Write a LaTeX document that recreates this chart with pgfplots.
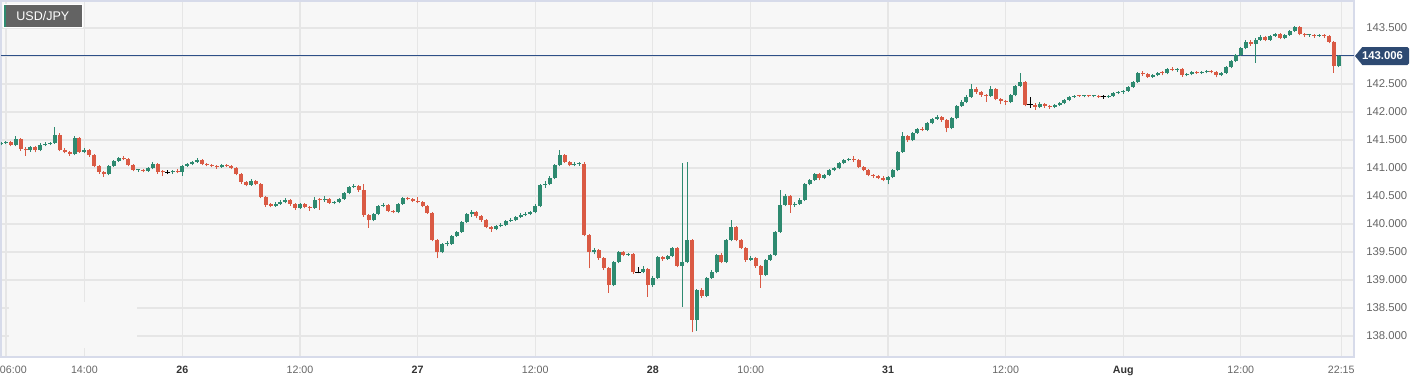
\documentclass[border=0pt]{standalone}
\usepackage{pgfplots}
\pgfplotsset{compat=1.18}
\usepackage{pgfplotstable}
\usepackage{fontspec}
\setmainfont{Liberation Sans}
\definecolor{upc}{HTML}{2E8A70}
\definecolor{dnc}{HTML}{DA5A44}
\definecolor{bgc}{HTML}{F7F7F7}
\definecolor{gridc}{HTML}{E6E6E6}
\definecolor{framec}{HTML}{D7DBEA}
\definecolor{navy}{HTML}{2E5088}
\definecolor{boxc}{HTML}{2E4A72}
\definecolor{lblc}{HTML}{666666}
\definecolor{dayc}{HTML}{333333}
\definecolor{titlec}{HTML}{636363}
\pgfplotstableread{
x o h l c
5.5 141.43 141.47 141.41 141.45
6 141.45 141.49 141.43 141.46
6.5 141.46 141.48 141.39 141.41
7 141.41 141.57 141.39 141.52
7.5 141.52 141.54 141.31 141.34
8 141.34 141.37 141.22 141.32
8.5 141.32 141.40 141.29 141.38
9 141.38 141.40 141.28 141.32
9.5 141.32 141.44 141.30 141.41
10 141.41 141.46 141.39 141.43
10.5 141.43 141.47 141.41 141.45
11 141.45 141.73 141.43 141.59
11.5 141.59 141.62 141.30 141.32
12 141.32 141.35 141.26 141.29
12.5 141.29 141.31 141.22 141.25
13 141.25 141.58 141.23 141.54
13.5 141.54 141.56 141.27 141.29
14 141.29 141.36 141.26 141.32
14.5 141.32 141.34 141.20 141.23
15 141.23 141.25 141.01 141.04
15.5 141.04 141.06 140.90 140.93
16 140.93 140.95 140.84 140.89
16.5 140.89 141.06 140.87 141.04
17 141.04 141.15 141.02 141.13
17.5 141.13 141.20 141.11 141.18
18 141.18 141.21 141.14 141.16
18.5 141.16 141.18 141.03 141.05
19 141.05 141.07 140.94 140.96
19.5 140.96 140.99 140.93 140.97
20 140.97 140.99 140.92 140.95
20.5 140.95 141.02 140.93 141.00
21 141.00 141.11 140.98 141.07
21.5 141.07 141.09 140.90 140.93
22 140.93 140.96 140.86 140.92
22.5 140.92 140.97 140.89 140.92
23 140.92 140.97 140.90 140.95
23.5 140.95 140.98 140.91 140.93
24 140.93 141.05 140.86 141.04
24.5 141.04 141.09 141.02 141.07
25 141.07 141.13 141.05 141.11
25.5 141.11 141.18 141.09 141.14
26 141.14 141.16 141.05 141.07
26.5 141.07 141.09 141.03 141.05
27 141.05 141.07 141.01 141.04
27.5 141.04 141.06 140.99 141.02
28 141.02 141.07 141.00 141.05
28.5 141.05 141.07 141.02 141.04
29 141.04 141.06 140.98 141.00
29.5 141.00 141.02 140.87 140.89
30 140.89 140.91 140.72 140.75
30.5 140.75 140.77 140.67 140.70
31 140.70 140.80 140.68 140.77
31.5 140.77 140.79 140.69 140.71
32 140.71 140.73 140.46 140.48
32.5 140.48 140.50 140.31 140.34
33 140.34 140.37 140.30 140.33
33.5 140.33 140.39 140.31 140.36
34 140.36 140.42 140.34 140.39
34.5 140.39 140.46 140.37 140.43
35 140.43 140.45 140.33 140.36
35.5 140.36 140.38 140.25 140.29
36 140.29 140.38 140.27 140.36
36.5 140.36 140.38 140.28 140.30
37 140.30 140.33 140.24 140.29
37.5 140.29 140.48 140.27 140.43
38 140.43 140.46 140.25 140.42
38.5 140.42 140.50 140.40 140.45
39 140.45 140.47 140.36 140.38
39.5 140.38 140.41 140.35 140.39
40 140.39 140.47 140.37 140.45
40.5 140.45 140.57 140.43 140.55
41 140.55 140.68 140.53 140.66
41.5 140.66 140.71 140.64 140.68
42 140.68 140.70 140.58 140.61
42.5 140.61 140.72 140.13 140.16
43 140.16 140.18 139.93 140.07
43.5 140.07 140.20 140.05 140.18
44 140.18 140.34 140.16 140.32
44.5 140.32 140.37 140.30 140.34
45 140.34 140.36 140.21 140.23
45.5 140.23 140.25 140.19 140.21
46 140.21 140.38 140.19 140.36
46.5 140.36 140.48 140.34 140.46
47 140.46 140.49 140.42 140.45
47.5 140.45 140.47 140.39 140.41
48 140.41 140.48 140.37 140.39
48.5 140.39 140.41 140.30 140.32
49 140.32 140.34 140.18 140.20
49.5 140.20 140.22 139.69 139.71
50 139.71 139.73 139.39 139.50
50.5 139.50 139.66 139.48 139.64
51 139.64 139.70 139.60 139.65
51.5 139.65 139.81 139.63 139.79
52 139.79 139.88 139.77 139.86
52.5 139.86 140.06 139.84 140.04
53 140.04 140.20 140.02 140.18
53.5 140.18 140.25 140.13 140.21
54 140.21 140.23 140.10 140.14
54.5 140.14 140.16 140.04 140.07
55 140.07 140.09 139.92 139.95
55.5 139.95 139.97 139.86 139.91
56 139.91 139.99 139.89 139.96
56.5 139.96 140.01 139.94 139.98
57 139.98 140.07 139.96 140.05
57.5 140.05 140.10 140.04 140.07
58 140.07 140.15 140.05 140.13
58.5 140.13 140.19 140.11 140.16
59 140.16 140.21 140.14 140.18
59.5 140.18 140.24 140.16 140.21
60 140.21 140.35 140.19 140.32
60.5 140.32 140.72 140.30 140.70
61 140.70 140.76 140.65 140.71
61.5 140.71 140.85 140.69 140.82
62 140.82 141.07 140.80 141.05
62.5 141.05 141.32 141.03 141.23
63 141.23 141.25 141.09 141.11
63.5 141.11 141.13 141.03 141.05
64 141.05 141.10 141.03 141.07
64.5 141.07 141.11 141.04 141.08
65 141.08 141.10 139.78 139.80
65.5 139.80 139.82 139.21 139.50
66 139.50 139.57 139.46 139.54
66.5 139.54 139.56 139.36 139.39
67 139.39 139.41 139.18 139.21
67.5 139.21 139.23 138.77 138.91
68 138.91 139.34 138.89 139.32
68.5 139.32 139.52 139.30 139.50
69 139.50 139.52 139.42 139.45
69.5 139.45 139.49 139.43 139.46
70 139.46 139.48 139.11 139.14
70.5 139.14 139.24 139.12 139.14
71 139.14 139.25 139.12 139.20
71.5 139.20 139.22 138.70 138.91
72 138.91 139.07 138.88 139.04
72.5 139.04 139.43 139.02 139.41
73 139.41 139.43 139.34 139.38
73.5 139.38 139.45 139.36 139.43
74 139.43 139.59 139.41 139.57
74.5 139.57 139.59 139.23 139.25
75 139.25 141.09 138.52 139.32
75.5 139.32 141.10 139.30 139.71
76 139.71 139.73 138.07 138.29
76.5 138.29 138.84 138.09 138.82
77 138.82 138.86 138.68 138.71
77.5 138.71 139.06 138.69 139.04
78 139.04 139.17 139.02 139.14
78.5 139.14 139.47 139.12 139.45
79 139.45 139.48 139.30 139.32
79.5 139.32 139.73 139.30 139.71
80 139.71 140.07 139.69 139.95
80.5 139.95 139.97 139.69 139.71
81 139.71 139.73 139.55 139.57
81.5 139.57 139.59 139.33 139.36
82 139.36 139.42 139.34 139.39
82.5 139.39 139.41 139.22 139.25
83 139.25 139.27 138.86 139.09
83.5 139.09 139.38 139.07 139.36
84 139.36 139.47 139.34 139.45
84.5 139.45 139.88 139.43 139.86
85 139.86 140.61 139.84 140.34
85.5 140.34 140.54 140.32 140.50
86 140.50 140.52 140.20 140.34
86.5 140.34 140.39 140.31 140.36
87 140.36 140.46 140.34 140.43
87.5 140.43 140.73 140.41 140.71
88 140.71 140.81 140.69 140.79
88.5 140.79 140.91 140.77 140.89
89 140.89 140.91 140.78 140.82
89.5 140.82 140.90 140.80 140.88
90 140.88 140.98 140.86 140.96
90.5 140.96 141.02 140.94 141.00
91 141.00 141.11 140.98 141.09
91.5 141.09 141.16 141.07 141.14
92 141.14 141.18 141.12 141.16
92.5 141.16 141.21 141.11 141.14
93 141.14 141.16 141.00 141.02
93.5 141.02 141.04 140.94 140.96
94 140.96 140.98 140.85 140.88
94.5 140.88 140.90 140.83 140.86
95 140.86 140.88 140.80 140.82
95.5 140.82 140.85 140.76 140.79
96 140.79 140.86 140.71 140.84
96.5 140.84 140.99 140.82 140.96
97 140.96 141.31 140.94 141.29
97.5 141.29 141.64 141.27 141.57
98 141.57 141.59 141.47 141.50
98.5 141.50 141.65 141.48 141.63
99 141.63 141.72 141.61 141.70
99.5 141.70 141.73 141.66 141.68
100 141.68 141.82 141.66 141.80
100.5 141.80 141.90 141.78 141.88
101 141.88 141.95 141.86 141.91
101.5 141.91 141.93 141.83 141.86
102 141.86 141.88 141.64 141.71
102.5 141.71 141.91 141.69 141.89
103 141.89 142.13 141.87 142.11
103.5 142.11 142.21 142.09 142.18
104 142.18 142.30 142.16 142.27
104.5 142.27 142.50 142.25 142.41
105 142.41 142.44 142.33 142.36
105.5 142.36 142.38 142.27 142.30
106 142.30 142.33 142.18 142.29
106.5 142.29 142.47 142.27 142.41
107 142.41 142.43 142.21 142.23
107.5 142.23 142.25 142.14 142.20
108 142.20 142.22 142.13 142.18
108.5 142.18 142.32 142.16 142.30
109 142.30 142.48 142.28 142.46
109.5 142.46 142.70 142.44 142.54
110 142.54 142.56 142.10 142.13
110.5 142.13 142.27 142.08 142.13
111 142.13 142.16 142.04 142.09
111.5 142.09 142.17 142.07 142.14
112 142.14 142.16 142.08 142.11
112.5 142.11 142.13 142.06 142.09
113 142.09 142.15 142.07 142.13
113.5 142.13 142.18 142.11 142.16
114 142.16 142.23 142.14 142.21
114.5 142.21 142.29 142.19 142.27
115 142.27 142.31 142.25 142.29
115.5 142.29 142.31 142.27 142.28
116 142.28 142.31 142.26 142.29
116.5 142.29 142.31 142.26 142.28
117 142.28 142.31 142.26 142.29
117.5 142.29 142.31 142.25 142.27
118 142.27 142.30 142.24 142.27
118.5 142.27 142.31 142.25 142.29
119 142.29 142.36 142.27 142.34
119.5 142.34 142.38 142.32 142.36
120 142.36 142.40 142.33 142.38
120.5 142.38 142.47 142.36 142.45
121 142.45 142.56 142.43 142.54
121.5 142.54 142.72 142.52 142.70
122 142.70 142.73 142.65 142.68
122.5 142.68 142.70 142.61 142.63
123 142.63 142.68 142.61 142.66
123.5 142.66 142.72 142.64 142.70
124 142.70 142.73 142.66 142.69
124.5 142.69 142.79 142.67 142.77
125 142.77 142.80 142.73 142.75
125.5 142.75 142.79 142.72 142.77
126 142.77 142.79 142.63 142.66
126.5 142.66 142.70 142.64 142.68
127 142.68 142.73 142.66 142.71
127.5 142.71 142.74 142.68 142.70
128 142.70 142.74 142.68 142.72
128.5 142.72 142.75 142.69 142.73
129 142.73 142.75 142.69 142.71
129.5 142.71 142.73 142.62 142.66
130 142.66 142.72 142.64 142.70
130.5 142.70 142.82 142.68 142.80
131 142.80 142.93 142.78 142.91
131.5 142.91 143.04 142.89 143.02
132 143.02 143.16 143.00 143.14
132.5 143.14 143.28 143.12 143.25
133 143.25 143.28 143.18 143.21
133.5 143.21 143.32 142.88 143.29
134 143.29 143.37 143.27 143.34
134.5 143.34 143.36 143.26 143.29
135 143.29 143.38 143.27 143.36
135.5 143.36 143.41 143.34 143.39
136 143.39 143.41 143.30 143.32
136.5 143.32 143.40 143.30 143.38
137 143.38 143.47 143.36 143.45
137.5 143.45 143.54 143.43 143.52
138 143.52 143.54 143.37 143.39
138.5 143.39 143.41 143.34 143.37
139 143.37 143.40 143.34 143.38
139.5 143.38 143.40 143.33 143.36
140 143.36 143.40 143.34 143.38
140.5 143.38 143.40 143.33 143.36
141 143.36 143.38 143.23 143.25
141.5 143.25 143.27 142.70 142.82
142 142.82 143.02 142.80 143.006
}\candles
\pgfplotsset{
  upf/.style={x filter/.expression={\thisrow{c}-\thisrow{o} > 0.0005 ? x : nan}},
  dnf/.style={x filter/.expression={\thisrow{c}-\thisrow{o} < -0.0005 ? x : nan}},
  djf/.style={x filter/.expression={abs(\thisrow{c}-\thisrow{o}) < 0.0005 ? x : nan}},
  nomk/.style={only marks, mark=*, mark size=0pt, mark options={draw=none, fill=none}},
}
\begin{document}
\begin{tikzpicture}
\begin{axis}[
  scale only axis, width=1014.75pt, height=267pt,
  xmin=5.49, xmax=143.55, ymin=137.625, ymax=143.982,
  axis background/.style={fill=bgc},
  axis line style={draw=framec, line width=1pt},
  grid=major, major grid style={draw=gridc, line width=0.8pt},
  major tick length=0pt, tick style={draw=none},
  xtick={6,14,24,36,48,60,72,82,96,108,120,132,142.25},
  xticklabels={\makebox[0pt][l]{\hspace{-4.5pt}06:00},14:00,\textcolor{dayc}{\textbf{26}},12:00,\textcolor{dayc}{\textbf{27}},12:00,\textcolor{dayc}{\textbf{28}},10:00,\textcolor{dayc}{\textbf{31}},12:00,\textcolor{dayc}{\textbf{Aug}},12:00,22:15},
  xticklabel style={font=\fontsize{8}{9}\selectfont, text=lblc, anchor=north, inner sep=0pt, yshift=-6.75pt},
  ytick={138,138.5,139,139.5,140,140.5,141,141.5,142,142.5,143,143.5},
  yticklabels={138.000,138.500,139.000,139.500,140.000,140.500,141.000,141.500,142.000,142.500,{},143.500},
  yticklabel pos=right,
  yticklabel style={font=\fontsize{8.5}{9}\selectfont, text=lblc, anchor=west, inner sep=0pt, xshift=9pt},
]
\fill[bgc] (axis cs:6.35,138.61) rectangle (axis cs:19.4,137.79);
\addplot[navy, line width=0.8pt] coordinates {(5.49,143.006) (143.55,143.006)};
% wicks
\addplot[nomk, upf, error bars/.cd, y dir=plus, y explicit, error mark=none, error bar style={draw=upc, line width=0.75pt}]
  table[x=x, y=l, y error expr=\thisrow{h}-\thisrow{l}] {\candles};
\addplot[nomk, dnf, error bars/.cd, y dir=plus, y explicit, error mark=none, error bar style={draw=dnc, line width=0.75pt}]
  table[x=x, y=l, y error expr=\thisrow{h}-\thisrow{l}] {\candles};
% bodies
\addplot[nomk, upf, error bars/.cd, y dir=plus, y explicit, error mark=none, error bar style={draw=upc, line width=3pt}]
  table[x=x, y=o, y error expr={max(\thisrow{c}-\thisrow{o},0.02)}] {\candles};
\addplot[nomk, dnf, error bars/.cd, y dir=plus, y explicit, error mark=none, error bar style={draw=dnc, line width=3pt}]
  table[x=x, y=c, y error expr={max(\thisrow{o}-\thisrow{c},0.02)}] {\candles};
% doji
\addplot[nomk, djf, error bars/.cd, y dir=plus, y explicit, error mark=none, error bar style={draw=black, line width=0.75pt}]
  table[x=x, y=l, y error expr=\thisrow{h}-\thisrow{l}] {\candles};
\addplot[only marks, mark=-, mark size=2pt, mark options={line width=0.9pt, draw=black}, djf]
  table[x=x, y=o] {\candles};
\end{axis}
\draw[white, line width=0.75pt, fill=titlec] (2.25pt,247.5pt) rectangle (60.75pt,264pt);
\fill[upc] (2.6pt,247.85pt) rectangle (4.1pt,263.65pt);
\node[text=white, inner sep=0pt, font=\fontsize{9.4}{10}\selectfont] at (31.4pt,255.75pt) {USD/JPY};
\fill[boxc] (1015.5pt,225.75pt) -- (1021pt,232.5pt) -- (1055pt,232.5pt) [rounded corners=1.2pt] -- (1056pt,232.5pt) -- (1056pt,219pt) [sharp corners] -- (1021pt,219pt) -- cycle;
\node[text=white, inner sep=0pt, font=\bfseries\fontsize{8.5}{10}\selectfont] at (1036.1pt,225.75pt) {143.006};
\pgfresetboundingbox
\path (-0.75pt,-19.5pt) rectangle (1067.25pt,267.75pt);
\end{tikzpicture}
\end{document}
